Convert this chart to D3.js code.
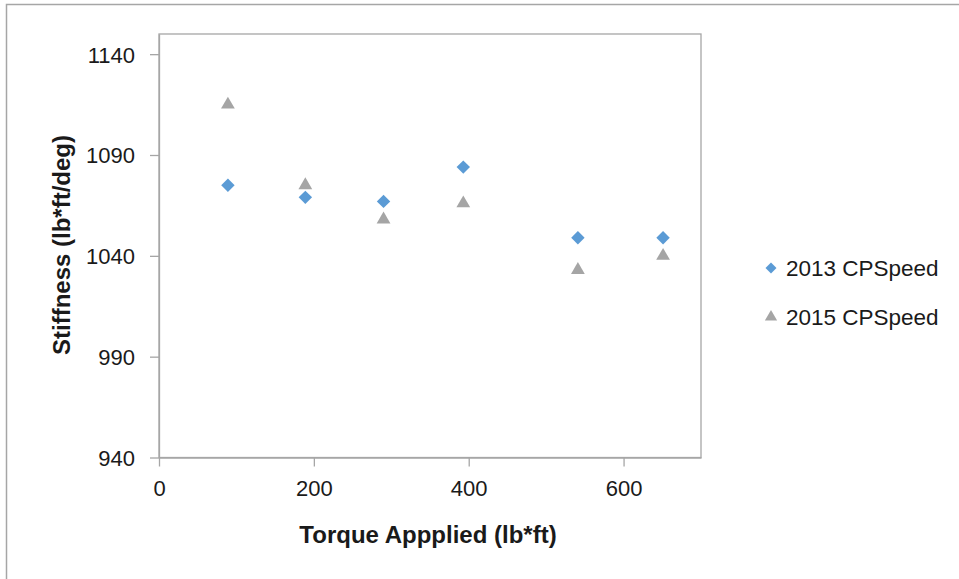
<!DOCTYPE html>
<html>
<head>
<meta charset="utf-8">
<script src="https://cdn.jsdelivr.net/npm/d3@7"></script>
<style>
  html, body { margin: 0; padding: 0; background: #fff; }
  svg { display: block; }
  text { font-family: "Liberation Sans", Arial, sans-serif; fill: #1a1a1a; }
</style>
</head>
<body>
<svg id="chart" width="959" height="579"></svg>
<script>
// Torque applied (lb*ft) for each test
const torque2013 = [89, 189, 290, 393, 541, 651];
const torque2015 = [89, 189, 290, 393, 541, 651];
// Measured stiffness (lb*ft/deg)
const stiffness2013 = [1075, 1069, 1067, 1084, 1049, 1049];
const stiffness2015 = [1115, 1075, 1058, 1066, 1033, 1040];

const seriesNames = ["2013 CPSpeed", "2015 CPSpeed"];
const xTicks = [0, 200, 400, 600];
const yTicks = [940, 990, 1040, 1090, 1140];

const svg = d3.select("#chart");

// outer chart frame
svg.append("rect")
  .attr("x", 6.5).attr("y", 4.5)
  .attr("width", 1000).attr("height", 1000)
  .attr("fill", "none").attr("stroke", "#a6a6a6").attr("stroke-width", 1.5);

const plot = { left: 159, top: 34, right: 701, bottom: 457.5 };

const x = d3.scaleLinear().domain([0, 700]).range([plot.left, plot.right]);
const y = d3.scaleLinear().domain([940, 1150]).range([plot.bottom, plot.top]);

// plot area border
svg.append("rect")
  .attr("x", plot.left).attr("y", plot.top)
  .attr("width", plot.right - plot.left).attr("height", plot.bottom - plot.top)
  .attr("fill", "none").attr("stroke", "#a6a6a6").attr("stroke-width", 1.3);

const fmt = d3.format("d");
const xAxis = svg.append("g")
  .attr("transform", `translate(0,${plot.bottom})`)
  .call(d3.axisBottom(x).tickValues(xTicks).tickFormat(fmt)
    .tickSizeInner(9).tickSizeOuter(0).tickPadding(12));
const yAxis = svg.append("g")
  .attr("transform", `translate(${plot.left},0)`)
  .call(d3.axisLeft(y).tickValues(yTicks).tickFormat(fmt)
    .tickSizeInner(9).tickSizeOuter(0).tickPadding(15));

[xAxis, yAxis].forEach(g => {
  g.select(".domain").attr("stroke", "#a6a6a6").attr("stroke-width", 1.3);
  g.selectAll(".tick line").attr("stroke", "#a6a6a6").attr("stroke-width", 1.3);
  g.selectAll(".tick text")
    .style("font-family", "'Liberation Sans', Arial, sans-serif")
    .style("font-size", "22px").attr("fill", "#1a1a1a");
});
yAxis.selectAll(".tick text").attr("dy", "0.36em");
xAxis.selectAll(".tick text").attr("dy", "0.8em");

// axis titles
svg.append("text")
  .attr("x", 428).attr("y", 543)
  .attr("text-anchor", "middle")
  .style("font-size", "24px").style("font-weight", "bold")
  .text("Torque Appplied (lb*ft)");

svg.append("text")
  .attr("transform", "translate(70,245) rotate(-90)")
  .attr("text-anchor", "middle")
  .style("font-size", "24px").style("font-weight", "bold")
  .text("Stiffness (lb*ft/deg)");

const diamond = d3.symbol().type(d3.symbolSquare).size(90);
const triangle = d3.symbol().type(d3.symbolTriangle).size(82);

const colors = ["#5b9bd5", "#a5a5a5"];

// 2013 series (diamonds)
svg.append("g").selectAll("path")
  .data(torque2013.map((t, i) => [t, stiffness2013[i]]))
  .join("path")
  .attr("d", diamond)
  .attr("transform", d => `translate(${x(d[0])},${y(d[1])}) rotate(45)`)
  .attr("fill", colors[0]);

// 2015 series (triangles)
svg.append("g").selectAll("path")
  .data(torque2015.map((t, i) => [t, stiffness2015[i]]))
  .join("path")
  .attr("d", triangle)
  .attr("transform", d => `translate(${x(d[0])},${y(d[1])})`)
  .attr("fill", colors[1]);

// legend
const legend = svg.append("g");
const legendY = [268, 317];
seriesNames.forEach((name, i) => {
  legend.append("path")
    .attr("d", i === 0 ? d3.symbol().type(d3.symbolSquare).size(60)() : d3.symbol().type(d3.symbolTriangle).size(65)())
    .attr("transform", `translate(771,${legendY[i]})` + (i === 0 ? " rotate(45)" : ""))
    .attr("fill", colors[i]);
  legend.append("text")
    .attr("x", 786).attr("y", legendY[i])
    .attr("dy", "0.36em")
    .style("font-size", "22.5px")
    .text(name);
});
</script>
</body>
</html>
